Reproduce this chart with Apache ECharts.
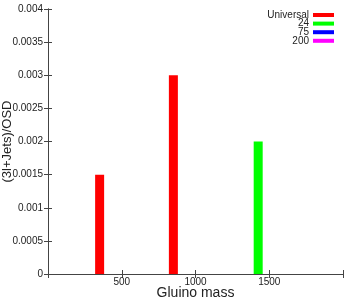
<!DOCTYPE html>
<html><head><meta charset="utf-8">
<script src="https://cdn.jsdelivr.net/npm/echarts@6/dist/echarts.min.js"></script>
<style>html,body{margin:0;padding:0;background:#fff}#c{width:354px;height:300px}</style>
</head><body><div id="c"></div>
<script>
var seriesNames = ['Universal', '24', '75', '200'];
var seriesColors = ['#ff0000', '#00ff00', '#0000ff', '#ff00ff'];
var universalData = [[350, 0.0015], [850, 0.003]];
var data24 = [[1425, 0.002]];
var data75 = [];
var data200 = [];
var xTicks = [500, 1000, 1500];
var allData = [universalData, data24, data75, data200];

var font = 'Liberation Sans, Arial, sans-serif';
var axisColor = '#444';
var chart = echarts.init(document.getElementById('c'));

var legends = seriesNames.map(function (n, i) {
  return {
    data: [n], right: 20, top: 10 + i * 8.6, align: 'right',
    itemWidth: 21, itemHeight: 4, itemGap: 0, padding: 0,
    icon: 'rect', selectedMode: false,
    textStyle: { fontFamily: font, fontSize: 10, color: '#222', padding: [0, -1, 0, 0] }
  };
});

chart.setOption({
  animation: false,
  legend: legends,
  grid: { left: 48, right: 11, top: 9, bottom: 26, containLabel: false, outerBoundsMode: 'none' },
  xAxis: [{
    type: 'value', min: 0, max: 2000, interval: 500,
    name: 'Gluino mass', nameLocation: 'middle', nameGap: 12, nameMoveOverlap: false,
    nameTextStyle: { fontFamily: font, fontSize: 14, color: '#222' },
    axisLine: { lineStyle: { color: axisColor } },
    axisTick: { inside: false, length: -4, lineStyle: { color: axisColor } },
    axisLabel: { fontFamily: font, fontSize: 10, color: '#222', margin: 3,
      formatter: function (v) { return xTicks.indexOf(v) >= 0 ? String(v) : ''; } },
    splitLine: { show: false }
  }, {
    type: 'value', position: 'top', min: 0, max: 2000, interval: 500,
    axisLine: { show: true, lineStyle: { color: axisColor } },
    axisTick: { inside: false, length: -4, lineStyle: { color: axisColor } },
    axisLabel: { show: false }, splitLine: { show: false }
  }],
  yAxis: [{
    type: 'value', min: 0, max: 0.004, interval: 0.0005,
    name: '(3l+Jets)/OSD', nameLocation: 'middle', nameGap: 34, nameMoveOverlap: false,
    nameTextStyle: { fontFamily: font, fontSize: 13, color: '#222' },
    axisLine: { show: true, lineStyle: { color: axisColor } },
    axisTick: { show: true, inside: false, length: -4, lineStyle: { color: axisColor } },
    axisLabel: { fontFamily: font, fontSize: 10, color: '#222', margin: 5,
      formatter: function (v) { return String(+v.toFixed(4)); } },
    splitLine: { show: false }
  }, {
    type: 'value', position: 'right', min: 0, max: 0.004, interval: 0.0005,
    axisLine: { show: true, lineStyle: { color: axisColor } },
    axisTick: { show: true, inside: false, length: -4, lineStyle: { color: axisColor } },
    axisLabel: { show: false }, splitLine: { show: false }
  }],
  series: seriesNames.map(function (n, i) {
    return {
      name: n, type: 'bar', data: allData[i], barWidth: 9, barGap: '-100%',
      itemStyle: { color: seriesColors[i] }
    };
  })
});
</script></body></html>
